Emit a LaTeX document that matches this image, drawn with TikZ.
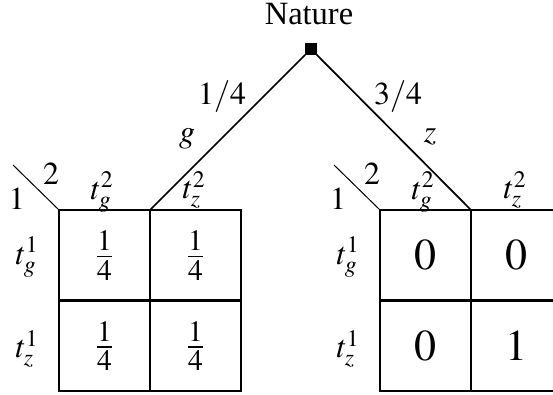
\documentclass[tikz,border=0pt]{standalone}
\usepackage{mathptmx}
\usepackage{fontspec}
\setmainfont{Liberation Serif}
\usetikzlibrary{positioning}

\tikzset{
  lbl/.style={font=\fontsize{32}{36}\selectfont, inner sep=0pt},
  val/.style={font=\fontsize{44}{48}\selectfont, inner sep=0pt},
  frc/.style={font=\fontsize{40}{44}\selectfont, inner sep=0pt},
  branch/.style={line width=1.7pt},
  cellline/.style={line width=2.2pt},
}

\begin{document}
\begin{tikzpicture}[x=1pt,y=1pt]
    \clip (0,0) rectangle (553,394);

    % Nature move
    \node[draw, fill=black, inner sep=0pt, minimum size=11pt] (root) at (311,345) {};
    \node[font=\fontsize{32.5}{36}\selectfont, inner sep=0pt] (nature) at (309,380) {Nature};

    % Branches to the two tables
    \coordinate (gend) at (150,184);
    \coordinate (zend) at (471,184);
    \draw[branch] (root) -- (gend);
    \draw[branch] (root) -- (zend);
    \node[lbl] (pg) at (222,297) {$1/4$};
    \node[lbl] (pz) at (398,297) {$3/4$};
    \node[lbl] (g) at (187,255) {$g$};
    \node[lbl] (z) at (430,257) {$z$};

    % Tables with type labels
    \foreach \x/\n in {59/L, 380/R} {
        \draw[cellline] (\x,3) rectangle ++(182,181);
        \draw[cellline] (\x+91,3) -- ++(0,181);
        \draw[cellline] (\x,93.5) -- ++(182,0);
        \coordinate (\n corner) at (\x,184);
        \draw[line width=1pt] (\n corner) -- ++(-46,45);
        \node[lbl] (\n-p2) at (\x-8,220) {$2$};
        \node[lbl] (\n-p1) at (\x-42,195) {$1$};
        \node[lbl] (\n-tg2) at (\x+43,202) {$t_g^2$};
        \node[lbl] (\n-tz2) at (\x+135,204) {$t_z^2$};
        \node[lbl] (\n-tg1) at (\x-32,137) {$t_g^1$};
        \node[lbl] (\n-tz1) at (\x-32,45) {$t_z^1$};
    }

    % Probabilities in the cells
    \node[frc] (Lgg) at (104.5,138.5) {$\frac{1}{4}$};
    \node[frc] (Lgz) at (195.5,138.5) {$\frac{1}{4}$};
    \node[frc] (Lzg) at (104.5,48) {$\frac{1}{4}$};
    \node[frc] (Lzz) at (195.5,48) {$\frac{1}{4}$};
    \node[val] (Rgg) at (425.5,138.5) {$0$};
    \node[val] (Rgz) at (516.5,138.5) {$0$};
    \node[val] (Rzg) at (425.5,48) {$0$};
    \node[val] (Rzz) at (516.5,48) {$1$};
\end{tikzpicture}
\end{document}
